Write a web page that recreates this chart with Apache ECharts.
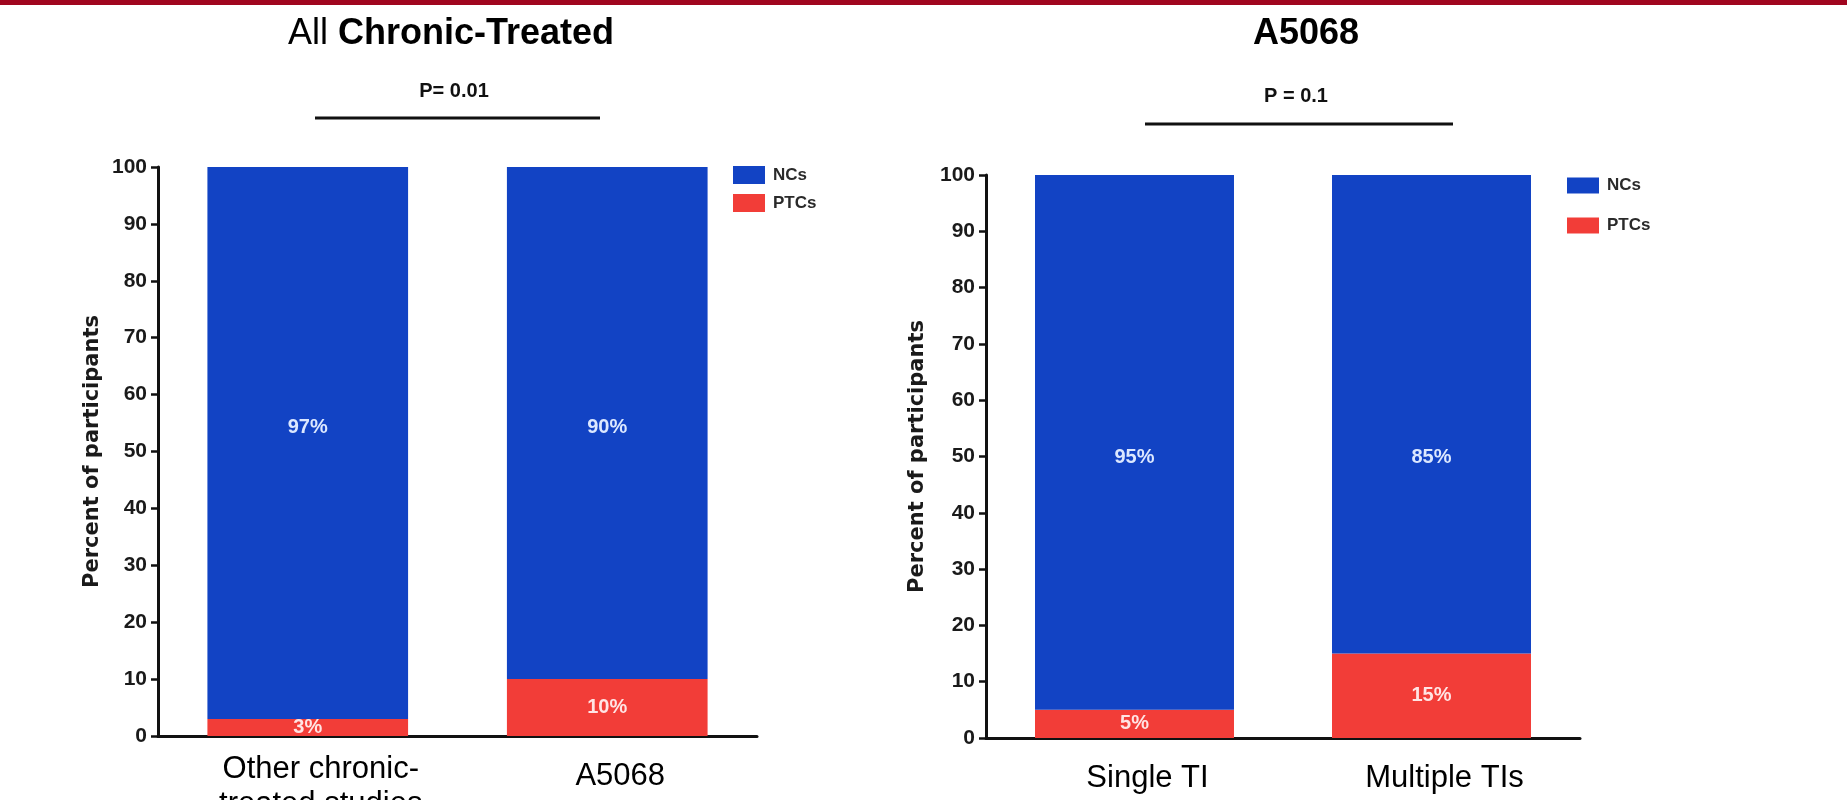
<!DOCTYPE html>
<html>
<head>
<meta charset="utf-8">
<title>Participants by group</title>
<script src="https://cdn.jsdelivr.net/npm/echarts@6/dist/echarts.min.js"></script>
<style>
  html, body { margin: 0; padding: 0; background: #ffffff; }
  #chart { width: 1847px; height: 800px; }
</style>
</head>
<body>
<div id="chart"></div>
<script>
// Left panel: all chronic-treated participants
const leftCategories = ['Other chronic-\ntreated studies', 'A5068'];
const leftNCs = [97, 90];
const leftPTCs = [3, 10];

// Right panel: A5068 participants by number of treatment interruptions
const rightCategories = ['Single TI', 'Multiple TIs'];
const rightNCs = [95, 85];
const rightPTCs = [5, 15];

// Shared y scale
const yMin = 0;
const yMax = 100;
const yStep = 10;

const panelTitles = ['All ', 'Chronic-Treated', 'A5068'];
const pValues = ['P= 0.01', 'P = 0.1'];
const seriesNames = ['NCs', 'PTCs'];
const yAxisName = 'Percent of participants';

const BLUE = '#1243c4';
const RED = '#f23d38';
const FONT = '"Liberation Sans", Arial, sans-serif';

const chart = echarts.init(document.getElementById('chart'), null, { renderer: 'canvas' });

function xAxisFor(gridIndex, cats) {
  return {
    type: 'category',
    gridIndex: gridIndex,
    data: cats,
    axisLine: { lineStyle: { color: '#111', width: 3 } },
    axisTick: { alignWithLabel: true, length: 8, lineStyle: { color: '#111', width: 2 } },
    axisLabel: {
      color: '#000',
      fontFamily: FONT,
      fontSize: 31,
      lineHeight: 35,
      margin: 16,
      interval: 0,
      padding: [0, 0, 0, 26],
      formatter: function (v) {
        return v.indexOf('\n') >= 0 ? v : '{one|' + v + '}';
      },
      rich: {
        one: { fontSize: 31, fontFamily: FONT, color: '#000', lineHeight: 49 }
      }
    }
  };
}

function yAxisFor(gridIndex, nameGap) {
  return {
    type: 'value',
    gridIndex: gridIndex,
    min: yMin,
    max: yMax,
    interval: yStep,
    name: yAxisName,
    nameLocation: 'middle',
    nameGap: nameGap,
    nameTextStyle: {
      fontFamily: '"DejaVu Sans", sans-serif',
      fontWeight: 'bold',
      fontSize: 21,
      color: '#1a1a1a'
    },
    axisLine: { show: true, lineStyle: { color: '#111', width: 3 } },
    axisTick: { show: true, length: 7, lineStyle: { color: '#111', width: 2.5 } },
    splitLine: { show: false },
    axisLabel: {
      color: '#1a1a1a',
      fontFamily: FONT,
      fontWeight: 'bold',
      fontSize: 21,
      margin: 11
    }
  };
}

function barPair(xi, ptcs, ncs, ncLabelTop) {
  return [
    {
      name: seriesNames[1],
      type: 'bar',
      stack: 'g' + xi,
      xAxisIndex: xi,
      yAxisIndex: xi,
      barCategoryGap: '33%',
      data: ptcs,
      itemStyle: { color: RED },
      label: {
        show: true,
        position: 'inside',
        formatter: '{c}%',
        color: '#ffe4e4',
        fontFamily: FONT,
        fontWeight: 'bold',
        fontSize: 20
      }
    },
    {
      name: seriesNames[0],
      type: 'bar',
      stack: 'g' + xi,
      xAxisIndex: xi,
      yAxisIndex: xi,
      barCategoryGap: '33%',
      data: ncs,
      itemStyle: { color: BLUE },
      label: {
        show: true,
        position: ['50%', ncLabelTop],
        align: 'center',
        verticalAlign: 'middle',
        formatter: '{c}%',
        color: '#dce8ff',
        fontFamily: FONT,
        fontWeight: 'bold',
        fontSize: 20
      }
    }
  ];
}

function legendAt(left, top, w, h, gap) {
  return {
    data: seriesNames,
    orient: 'vertical',
    left: left,
    top: top,
    padding: 0,
    itemWidth: w,
    itemHeight: h,
    itemGap: gap,
    icon: 'rect',
    selectedMode: false,
    textStyle: {
      fontFamily: FONT,
      fontWeight: 'bold',
      fontSize: 17,
      color: '#2a2a2a',
      padding: [0, 0, 0, 3]
    }
  };
}

const option = {
  backgroundColor: '#ffffff',
  animation: false,
  grid: [
    { left: 158, top: 167, width: 599, height: 569, containLabel: false, outerBoundsMode: 'none' },
    { left: 986, top: 175, width: 594, height: 563, containLabel: false, outerBoundsMode: 'none' }
  ],
  xAxis: [xAxisFor(0, leftCategories), xAxisFor(1, rightCategories)],
  yAxis: [yAxisFor(0, 55), yAxisFor(1, 58)],
  legend: [legendAt(733, 166, 32, 18, 10), legendAt(1567, 177, 32, 16, 23)],
  series: [].concat(
    barPair(0, leftPTCs, leftNCs, 260),
    barPair(1, rightPTCs, rightNCs, 282)
  ),
  graphic: [
    // maroon band along the top edge
    { type: 'rect', left: 0, top: 0, shape: { width: 1847, height: 5 }, style: { fill: '#a0061f' } },
    {
      type: 'text',
      x: 451, y: 34,
      style: {
        text: '{a|' + panelTitles[0] + '}{b|' + panelTitles[1] + '}',
        align: 'center',
        verticalAlign: 'middle',
        rich: {
          a: { fontFamily: FONT, fontSize: 36, fill: '#000' },
          b: { fontFamily: FONT, fontSize: 36, fontWeight: 'bold', fill: '#000' }
        }
      }
    },
    {
      type: 'text',
      x: 1306, y: 34,
      style: {
        text: panelTitles[2],
        align: 'center',
        verticalAlign: 'middle',
        font: 'bold 36px ' + FONT,
        fill: '#000'
      }
    },
    // significance brackets
    {
      type: 'text', x: 454, y: 91,
      style: { text: pValues[0], align: 'center', verticalAlign: 'middle', font: 'bold 20px ' + FONT, fill: '#111' }
    },
    { type: 'line', shape: { x1: 315, y1: 118, x2: 600, y2: 118 }, style: { stroke: '#111', lineWidth: 3 } },
    {
      type: 'text', x: 1296, y: 96,
      style: { text: pValues[1], align: 'center', verticalAlign: 'middle', font: 'bold 20px ' + FONT, fill: '#111' }
    },
    { type: 'line', shape: { x1: 1145, y1: 124, x2: 1453, y2: 124 }, style: { stroke: '#111', lineWidth: 3 } }
  ]
};

chart.setOption(option);
</script>
</body>
</html>
